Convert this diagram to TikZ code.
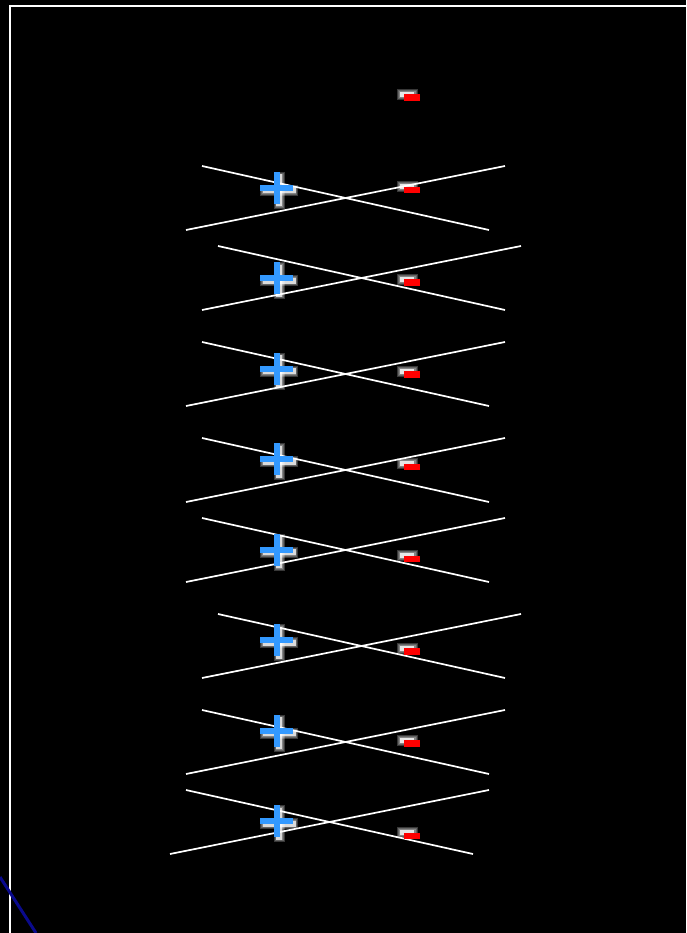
\documentclass[tikz,border=0pt]{standalone}
\definecolor{pblue}{RGB}{51,153,255}
\definecolor{mred}{RGB}{255,0,0}
\definecolor{navyline}{RGB}{10,10,140}
\begin{document}
\begin{tikzpicture}[x=1pt,y=-1pt,
  wline/.style={draw=white,line width=1.7pt},
  plusblue/.style={fill=pblue},
  minusred/.style={fill=mred},
  glow/.style={fill=white,opacity=0.22}]
\fill[black] (0,0) rectangle (686,933);
\useasboundingbox (0,0) rectangle (686,933);
% frame
\coordinate (fA) at (10,933);
\coordinate (fB) at (10,6);
\coordinate (fC) at (686,6);
\draw[white,line width=2pt] (fA) -- (fB) -- (fC);
% blue corner line
\coordinate (bA) at (0,877);
\coordinate (bB) at (36,933);
\draw[navyline,line width=3pt] (bA) -- (bB);
% crossing line pairs
\foreach \i/\xa/\ya in {1/202/166,2/218/246,3/202/342,4/202/438,5/202/518,6/218/614,7/202/710,8/186/790}{
  \coordinate (p\i a) at (\xa,\ya);
  \coordinate (p\i b) at (\xa+287,\ya+64);
  \coordinate (p\i c) at (\xa-16,\ya+64);
  \coordinate (p\i d) at (\xa+303,\ya);
  \draw[wline] (p\i a) -- (p\i b);
  \draw[wline] (p\i c) -- (p\i d);
}
% plus signs
\foreach \k in {0,...,7}{
  \pgfmathsetmacro{\cy}{188+\k*90.43}
  \coordinate (plus\k) at (276.5,\cy);
  \coordinate (pg\k) at ([xshift=2.5,yshift=-2.5]plus\k);
  \foreach \g in {0.5,1.5,2.5}{
    \fill[glow] (pg\k) ++(-16.5-\g,-3-\g) rectangle ++(33+2*\g,6+2*\g);
    \fill[glow] (pg\k) ++(-3-\g,-16-\g) rectangle ++(6+2*\g,32+2*\g);
  }
  \fill[white,opacity=0.7] (pg\k) ++(-16.5,-3) rectangle ++(33,6);
  \fill[white,opacity=0.7] (pg\k) ++(-3,-16) rectangle ++(6,32);
  \fill[plusblue] (plus\k) ++(-16.5,-3) rectangle ++(33,6);
  \fill[plusblue] (plus\k) ++(-3,-16) rectangle ++(6,32);
}
% minus signs
\foreach \k in {0,...,8}{
  \pgfmathsetmacro{\cy}{97.5+\k*92.25}
  \coordinate (minus\k) at (412,\cy);
  \coordinate (mg\k) at ([xshift=-5,yshift=3]minus\k);
  \foreach \g in {0.5,1.5,2.5}{
    \fill[glow] (mg\k) ++(-8-\g,-3-\g) rectangle ++(16+2*\g,6+2*\g);
  }
  \fill[white,opacity=0.8] (mg\k) ++(-7,-2.5) rectangle ++(14,5);
  \fill[minusred] (minus\k) ++(-8,-3) rectangle ++(16,6.5);
}
\end{tikzpicture}
\end{document}
